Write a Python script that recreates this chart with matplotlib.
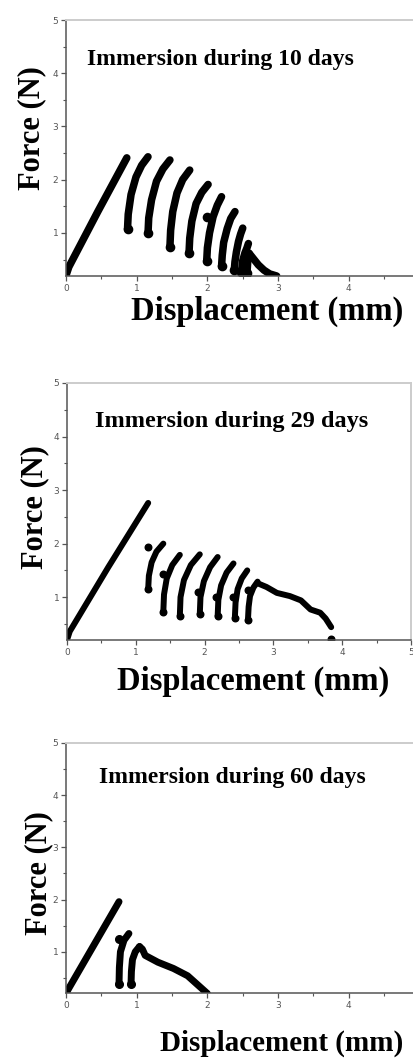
import matplotlib
matplotlib.use("Agg")
import matplotlib.pyplot as plt
from matplotlib.ticker import MultipleLocator

W, H = 413, 1058

# ---- panel 1 : 10 days ----
d10_ramp_x = [0, 0.04, 0.45, 0.86]
d10_ramp_y = [0.2, 0.36, 1.40, 2.41]
d10_arcs = [
    ([0.87, 0.88, 0.92, 0.99, 1.07, 1.16], [1.07, 1.35, 1.72, 2.05, 2.27, 2.43]),
    ([1.16, 1.17, 1.21, 1.28, 1.37, 1.47], [0.99, 1.28, 1.62, 1.97, 2.20, 2.37]),
    ([1.47, 1.48, 1.51, 1.57, 1.65, 1.75], [0.74, 1.05, 1.40, 1.75, 2.00, 2.18]),
    ([1.74, 1.75, 1.78, 1.84, 1.92, 2.01], [0.62, 0.90, 1.22, 1.55, 1.76, 1.91]),
    ([1.99, 2.00, 2.03, 2.08, 2.14, 2.20], [0.47, 0.72, 1.00, 1.30, 1.52, 1.68]),
    ([2.20, 2.21, 2.23, 2.28, 2.33, 2.39], [0.37, 0.58, 0.82, 1.08, 1.27, 1.40]),
    ([2.38, 2.39, 2.41, 2.44, 2.47, 2.50], [0.30, 0.46, 0.64, 0.84, 0.98, 1.09]),
    ([2.48, 2.49, 2.50, 2.53, 2.56, 2.58], [0.26, 0.36, 0.48, 0.62, 0.72, 0.80]),
    ([2.56, 2.57, 2.59], [0.25, 0.45, 0.62]),
]
d10_tail_x = [2.58, 2.60, 2.66, 2.72, 2.80, 2.88, 2.98]
d10_tail_y = [0.55, 0.60, 0.50, 0.40, 0.30, 0.23, 0.19]
d10_dots_x = [1.99]
d10_dots_y = [1.30]

# ---- panel 2 : 29 days ----
d29_ramp_x = [0, 0.04, 0.6, 1.18]
d29_ramp_y = [0.2, 0.36, 1.56, 2.76]
d29_arcs = [
    ([1.18, 1.19, 1.23, 1.30, 1.40], [1.15, 1.40, 1.65, 1.85, 2.00]),
    ([1.40, 1.41, 1.45, 1.53, 1.64], [0.73, 1.05, 1.35, 1.60, 1.79]),
    ([1.64, 1.65, 1.70, 1.80, 1.93], [0.65, 1.00, 1.32, 1.60, 1.80]),
    ([1.93, 1.94, 1.99, 2.08, 2.19], [0.68, 1.00, 1.30, 1.56, 1.75]),
    ([2.19, 2.20, 2.24, 2.32, 2.42], [0.65, 0.95, 1.22, 1.46, 1.63]),
    ([2.44, 2.45, 2.48, 2.54, 2.62], [0.62, 0.90, 1.15, 1.35, 1.50]),
    ([2.63, 2.64, 2.66, 2.71, 2.77], [0.57, 0.82, 1.02, 1.18, 1.29]),
]
d29_tail_x = [2.77, 2.90, 3.05, 3.24, 3.40, 3.54, 3.68, 3.76, 3.84]
d29_tail_y = [1.26, 1.19, 1.08, 1.02, 0.94, 0.77, 0.71, 0.60, 0.44]
d29_dots_x = [1.18, 1.40, 1.90, 2.17, 2.41, 2.63, 3.84]
d29_dots_y = [1.93, 1.44, 1.10, 1.01, 1.01, 1.13, 0.22]

# ---- panel 3 : 60 days ----
d60_ramp_x = [0, 0.04, 0.75]
d60_ramp_y = [0.2, 0.30, 1.96]
d60_arcs = [
    ([0.75, 0.755, 0.77, 0.82, 0.89], [0.38, 0.70, 1.00, 1.22, 1.35]),
    ([0.92, 0.925, 0.94, 0.98, 1.04], [0.38, 0.62, 0.85, 1.00, 1.10]),
]
d60_tail_x = [1.04, 1.08, 1.12, 1.30, 1.52, 1.72, 1.86, 2.00]
d60_tail_y = [1.10, 1.05, 0.93, 0.80, 0.68, 0.54, 0.37, 0.20]
d60_dots_x = [0.75]
d60_dots_y = [1.24]

titles = ["Immersion during 10 days", "Immersion during 29 days", "Immersion during 60 days"]
x_ticks = [0, 1, 2, 3, 4, 5]
y_ticks = [1, 2, 3, 4, 5]

plt.rcParams['font.family'] = ['DejaVu Sans']
fig = plt.figure(figsize=(W / 100, H / 100), dpi=100)


def px_axes(left, top, right, bottom):
    return fig.add_axes([left / W, 1 - bottom / H, (right - left) / W, (bottom - top) / H])


def style(ax, ybot, show_last=True):
    ax.set_xlim(0, 5)
    ax.set_ylim(ybot, 5)
    labels = [str(t) for t in x_ticks]
    if not show_last:
        labels[-1] = ''   # falls outside the picture in the original
    ax.set_xticks(x_ticks, labels)
    ax.xaxis.set_minor_locator(MultipleLocator(0.5))
    ax.set_yticks(y_ticks)
    ax.yaxis.set_minor_locator(MultipleLocator(0.5))
    ax.tick_params(which='major', direction='out', length=3.5, width=0.9,
                   color='#555555', labelsize=6.5, labelcolor='#555555', pad=2)
    ax.tick_params(which='minor', direction='out', length=2, width=0.8, color='#555555')
    for s in ['left', 'bottom']:
        ax.spines[s].set_color('#555555')
        ax.spines[s].set_linewidth(1.1)
    for s in ['top', 'right']:
        ax.spines[s].set_color('#cccccc')
        ax.spines[s].set_linewidth(1.4)


def draw(ax, ramp_x, ramp_y, arcs, tail_x, tail_y, dots_x, dots_y, lw):
    kw = dict(color='black', lw=lw, solid_capstyle='round', solid_joinstyle='round')
    ax.plot(ramp_x, ramp_y, **kw)
    for ax_x, ax_y in arcs:
        ax.plot(ax_x, ax_y, **kw)
        ax.plot(ax_x[0], ax_y[0], 'o', color='black', ms=lw * 1.1)
    ax.plot(tail_x, tail_y, **kw)
    ax.plot(dots_x, dots_y, 'o', color='black', ms=lw * 1.1, ls='none')


ax1 = px_axes(66, 20, 419.5, 276)
style(ax1, 0.19, show_last=False)
draw(ax1, d10_ramp_x, d10_ramp_y, d10_arcs, d10_tail_x, d10_tail_y, d10_dots_x, d10_dots_y, 5.4)

ax2 = px_axes(67, 383, 411, 640)
style(ax2, 0.2)
draw(ax2, d29_ramp_x, d29_ramp_y, d29_arcs, d29_tail_x, d29_tail_y, d29_dots_x, d29_dots_y, 4.3)

ax3 = px_axes(66, 743, 419.5, 993)
style(ax3, 0.21, show_last=False)
draw(ax3, d60_ramp_x, d60_ramp_y, d60_arcs, d60_tail_x, d60_tail_y, d60_dots_x, d60_dots_y, 5.0)

serif = dict(family='Liberation Serif', weight='bold', color='black')


def ftext(x, y, s, **kw):
    fig.text(x / W, 1 - y / H, s, **kw)


# titles inside panels
ftext(220, 60, titles[0], ha='center', va='center', fontsize=17, **serif)
ftext(232, 422, titles[1], ha='center', va='center', fontsize=17.5, **serif)
ftext(232, 777, titles[2], ha='center', va='center', fontsize=17, **serif)

# y labels
ftext(32, 128, "Force (N)", ha='center', va='center', rotation=90, fontsize=22, **serif)
ftext(35, 507, "Force (N)", ha='center', va='center', rotation=90, fontsize=22, **serif)
ftext(39, 873, "Force (N)", ha='center', va='center', rotation=90, fontsize=22, **serif)

# x labels
ftext(267, 320, "Displacement (mm)", ha='center', va='baseline', fontsize=23.5, **serif)
ftext(253, 690, "Displacement (mm)", ha='center', va='baseline', fontsize=23.5, **serif)
ftext(282, 1051, "Displacement (mm)", ha='center', va='baseline', fontsize=21, **serif)

fig.savefig("out.png", dpi=100)
